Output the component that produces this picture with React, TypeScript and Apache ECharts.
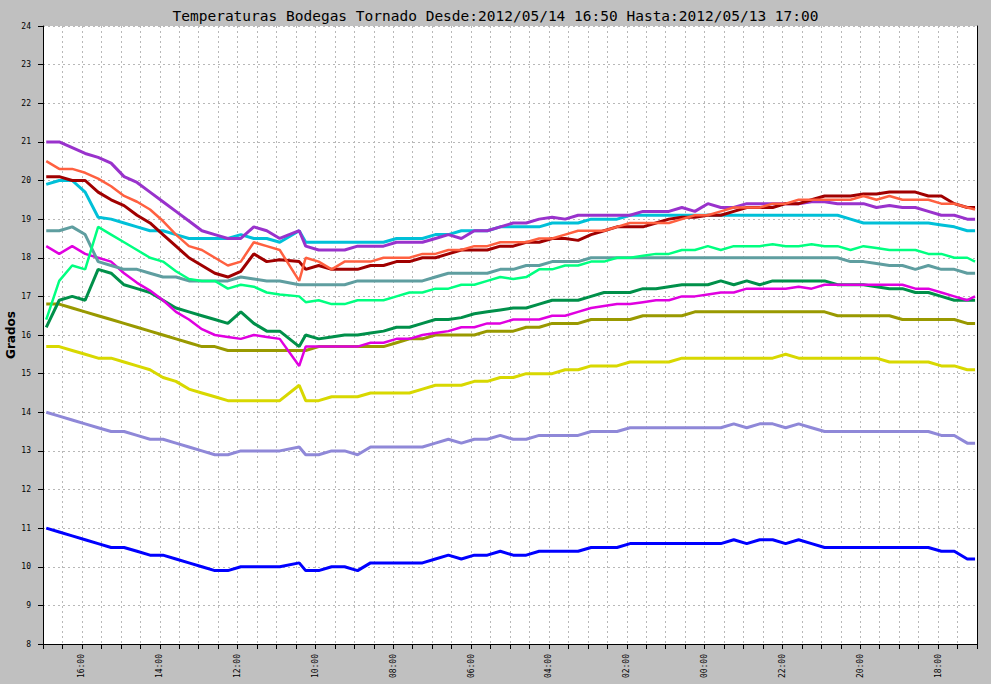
import React, { useEffect, useRef } from 'react';
import * as echarts from 'echarts';

// minutes before 2012/05/14 17:00
const minutesAgo = [
  5, 25, 45, 65, 85, 105, 125, 145, 165, 185,
  205, 225, 245, 265, 285, 305, 325, 345, 365, 395,
  405, 425, 445, 465, 485, 505, 525, 545, 565, 585,
  605, 625, 645, 665, 685, 705, 725, 745, 765, 785,
  805, 825, 845, 865, 885, 905, 925, 945, 965, 985,
  1005, 1025, 1045, 1065, 1085, 1105, 1125, 1145, 1165, 1185,
  1205, 1225, 1245, 1265, 1285, 1305, 1325, 1345, 1365, 1385,
  1405, 1425, 1437,
];

const blue = [
  11.0, 10.9, 10.8, 10.7, 10.6, 10.5, 10.5, 10.4, 10.3, 10.3,
  10.2, 10.1, 10.0, 9.9, 9.9, 10.0, 10.0, 10.0, 10.0, 10.1,
  9.9, 9.9, 10.0, 10.0, 9.9, 10.1, 10.1, 10.1, 10.1, 10.1,
  10.2, 10.3, 10.2, 10.3, 10.3, 10.4, 10.3, 10.3, 10.4, 10.4,
  10.4, 10.4, 10.5, 10.5, 10.5, 10.6, 10.6, 10.6, 10.6, 10.6,
  10.6, 10.6, 10.6, 10.7, 10.6, 10.7, 10.7, 10.6, 10.7, 10.6,
  10.5, 10.5, 10.5, 10.5, 10.5, 10.5, 10.5, 10.5, 10.5, 10.4,
  10.4, 10.2, 10.2,
];
const lavender = [
  14.0, 13.9, 13.8, 13.7, 13.6, 13.5, 13.5, 13.4, 13.3, 13.3,
  13.2, 13.1, 13.0, 12.9, 12.9, 13.0, 13.0, 13.0, 13.0, 13.1,
  12.9, 12.9, 13.0, 13.0, 12.9, 13.1, 13.1, 13.1, 13.1, 13.1,
  13.2, 13.3, 13.2, 13.3, 13.3, 13.4, 13.3, 13.3, 13.4, 13.4,
  13.4, 13.4, 13.5, 13.5, 13.5, 13.6, 13.6, 13.6, 13.6, 13.6,
  13.6, 13.6, 13.6, 13.7, 13.6, 13.7, 13.7, 13.6, 13.7, 13.6,
  13.5, 13.5, 13.5, 13.5, 13.5, 13.5, 13.5, 13.5, 13.5, 13.4,
  13.4, 13.2, 13.2,
];
const yellow = [
  15.7, 15.7, 15.6, 15.5, 15.4, 15.4, 15.3, 15.2, 15.1, 14.9,
  14.8, 14.6, 14.5, 14.4, 14.3, 14.3, 14.3, 14.3, 14.3, 14.7,
  14.3, 14.3, 14.4, 14.4, 14.4, 14.5, 14.5, 14.5, 14.5, 14.6,
  14.7, 14.7, 14.7, 14.8, 14.8, 14.9, 14.9, 15.0, 15.0, 15.0,
  15.1, 15.1, 15.2, 15.2, 15.2, 15.3, 15.3, 15.3, 15.3, 15.4,
  15.4, 15.4, 15.4, 15.4, 15.4, 15.4, 15.4, 15.5, 15.4, 15.4,
  15.4, 15.4, 15.4, 15.4, 15.4, 15.3, 15.3, 15.3, 15.3, 15.2,
  15.2, 15.1, 15.1,
];
const olive = [
  16.8, 16.8, 16.7, 16.6, 16.5, 16.4, 16.3, 16.2, 16.1, 16.0,
  15.9, 15.8, 15.7, 15.7, 15.6, 15.6, 15.6, 15.6, 15.6, 15.6,
  15.6, 15.7, 15.7, 15.7, 15.7, 15.7, 15.7, 15.8, 15.9, 15.9,
  16.0, 16.0, 16.0, 16.0, 16.1, 16.1, 16.1, 16.2, 16.2, 16.3,
  16.3, 16.3, 16.4, 16.4, 16.4, 16.4, 16.5, 16.5, 16.5, 16.5,
  16.6, 16.6, 16.6, 16.6, 16.6, 16.6, 16.6, 16.6, 16.6, 16.6,
  16.6, 16.5, 16.5, 16.5, 16.5, 16.5, 16.4, 16.4, 16.4, 16.4,
  16.4, 16.3, 16.3,
];
const darkGreen = [
  16.2, 16.9, 17.0, 16.9, 17.7, 17.6, 17.3, 17.2, 17.1, 16.9,
  16.7, 16.6, 16.5, 16.4, 16.3, 16.6, 16.3, 16.1, 16.1, 15.7,
  16.0, 15.9, 15.95, 16.0, 16.0, 16.05, 16.1, 16.2, 16.2, 16.3,
  16.4, 16.4, 16.45, 16.55, 16.6, 16.65, 16.7, 16.7, 16.8, 16.9,
  16.9, 16.9, 17.0, 17.1, 17.1, 17.1, 17.2, 17.2, 17.25, 17.3,
  17.3, 17.3, 17.4, 17.3, 17.4, 17.3, 17.4, 17.4, 17.4, 17.4,
  17.4, 17.3, 17.3, 17.3, 17.25, 17.2, 17.2, 17.1, 17.1, 17.0,
  16.9, 16.9, 16.9,
];
const magenta = [
  18.3, 18.1, 18.3, 18.1, 18.0, 17.9, 17.6, 17.35, 17.15, 16.9,
  16.6, 16.4, 16.15, 16.0, 15.95, 15.9, 16.0, 15.95, 15.9, 15.2,
  15.7, 15.7, 15.7, 15.7, 15.7, 15.8, 15.8, 15.9, 15.9, 16.0,
  16.05, 16.1, 16.2, 16.2, 16.3, 16.3, 16.4, 16.4, 16.4, 16.5,
  16.5, 16.6, 16.7, 16.75, 16.8, 16.8, 16.85, 16.9, 16.9, 17.0,
  17.0, 17.05, 17.1, 17.1, 17.2, 17.2, 17.2, 17.2, 17.25, 17.2,
  17.3, 17.3, 17.3, 17.3, 17.3, 17.3, 17.3, 17.2, 17.2, 17.1,
  17.0, 16.9, 17.0,
];
const teal = [
  18.7, 18.7, 18.8, 18.6, 17.9, 17.8, 17.7, 17.7, 17.6, 17.5,
  17.5, 17.4, 17.4, 17.4, 17.4, 17.5, 17.45, 17.4, 17.4, 17.3,
  17.3, 17.3, 17.3, 17.3, 17.4, 17.4, 17.4, 17.4, 17.4, 17.4,
  17.5, 17.6, 17.6, 17.6, 17.6, 17.7, 17.7, 17.8, 17.8, 17.9,
  17.9, 17.9, 18.0, 18.0, 18.0, 18.0, 18.0, 18.0, 18.0, 18.0,
  18.0, 18.0, 18.0, 18.0, 18.0, 18.0, 18.0, 18.0, 18.0, 18.0,
  18.0, 18.0, 17.9, 17.9, 17.85, 17.8, 17.8, 17.7, 17.8, 17.7,
  17.7, 17.6, 17.6,
];
const springGreen = [
  16.4, 17.4, 17.8, 17.7, 18.8, 18.6, 18.4, 18.2, 18.0, 17.9,
  17.65, 17.45, 17.4, 17.4, 17.2, 17.3, 17.25, 17.1, 17.05, 17.0,
  16.85, 16.9, 16.8, 16.8, 16.9, 16.9, 16.9, 17.0, 17.1, 17.1,
  17.2, 17.2, 17.3, 17.3, 17.4, 17.5, 17.45, 17.5, 17.7, 17.7,
  17.8, 17.8, 17.9, 17.9, 18.0, 18.0, 18.05, 18.1, 18.1, 18.2,
  18.2, 18.3, 18.2, 18.3, 18.3, 18.3, 18.35, 18.3, 18.3, 18.35,
  18.3, 18.3, 18.2, 18.3, 18.25, 18.2, 18.2, 18.2, 18.1, 18.1,
  18.0, 18.0, 17.9,
];
const cyan = [
  19.9, 20.0, 20.0, 19.7, 19.05, 19.0, 18.9, 18.8, 18.7, 18.7,
  18.6, 18.5, 18.5, 18.5, 18.5, 18.6, 18.5, 18.5, 18.4, 18.7,
  18.4, 18.4, 18.4, 18.4, 18.4, 18.4, 18.4, 18.5, 18.5, 18.5,
  18.6, 18.6, 18.7, 18.7, 18.7, 18.8, 18.8, 18.8, 18.8, 18.9,
  18.9, 18.9, 19.0, 19.0, 19.0, 19.1, 19.1, 19.1, 19.1, 19.1,
  19.1, 19.1, 19.1, 19.1, 19.1, 19.1, 19.1, 19.1, 19.1, 19.1,
  19.1, 19.1, 19.0, 18.9, 18.9, 18.9, 18.9, 18.9, 18.9, 18.85,
  18.8, 18.7, 18.7,
];
const purple = [
  21.0, 21.0, 20.85, 20.7, 20.6, 20.45, 20.1, 19.95, 19.7, 19.45,
  19.2, 18.95, 18.7, 18.6, 18.5, 18.5, 18.8, 18.7, 18.5, 18.7,
  18.3, 18.2, 18.2, 18.2, 18.3, 18.3, 18.3, 18.4, 18.4, 18.4,
  18.5, 18.6, 18.5, 18.7, 18.7, 18.8, 18.9, 18.9, 19.0, 19.05,
  19.0, 19.1, 19.1, 19.1, 19.1, 19.1, 19.2, 19.2, 19.2, 19.3,
  19.2, 19.4, 19.3, 19.3, 19.4, 19.4, 19.4, 19.4, 19.4, 19.45,
  19.45, 19.4, 19.4, 19.4, 19.3, 19.35, 19.3, 19.3, 19.2, 19.1,
  19.1, 19.0, 19.0,
];
const orange = [
  20.5, 20.3, 20.3, 20.2, 20.05, 19.85, 19.6, 19.45, 19.25, 18.95,
  18.6, 18.3, 18.2, 18.0, 17.8, 17.9, 18.4, 18.3, 18.2, 17.4,
  18.0, 17.9, 17.7, 17.9, 17.9, 17.9, 18.0, 18.0, 18.0, 18.1,
  18.1, 18.2, 18.2, 18.3, 18.3, 18.4, 18.4, 18.4, 18.5, 18.5,
  18.6, 18.7, 18.7, 18.7, 18.8, 18.9, 18.9, 18.9, 18.9, 19.0,
  19.1, 19.1, 19.2, 19.3, 19.3, 19.3, 19.4, 19.4, 19.5, 19.5,
  19.5, 19.5, 19.5, 19.6, 19.5, 19.6, 19.5, 19.5, 19.5, 19.4,
  19.4, 19.3, 19.25,
];
const darkRed = [
  20.1, 20.1, 20.0, 20.0, 19.7, 19.5, 19.35, 19.1, 18.9, 18.6,
  18.3, 18.0, 17.8, 17.6, 17.5, 17.65, 18.1, 17.9, 17.95, 17.9,
  17.7, 17.8, 17.7, 17.7, 17.7, 17.8, 17.8, 17.9, 17.9, 18.0,
  18.0, 18.1, 18.2, 18.2, 18.2, 18.3, 18.3, 18.4, 18.4, 18.5,
  18.5, 18.45, 18.6, 18.7, 18.8, 18.8, 18.8, 18.9, 19.0, 19.05,
  19.05, 19.1, 19.1, 19.2, 19.3, 19.3, 19.3, 19.4, 19.4, 19.5,
  19.6, 19.6, 19.6, 19.65, 19.65, 19.7, 19.7, 19.7, 19.6, 19.6,
  19.4, 19.3, 19.3,
];

const seriesList = [
  { name: 'Bodega 1', values: blue, color: '#0000FF', width: 3 },
  { name: 'Bodega 2', values: lavender, color: '#8F88D8', width: 3 },
  { name: 'Bodega 3', values: yellow, color: '#D8D800', width: 3 },
  { name: 'Bodega 4', values: olive, color: '#999900', width: 3 },
  { name: 'Bodega 5', values: darkGreen, color: '#00904A', width: 3 },
  { name: 'Bodega 6', values: magenta, color: '#E000E0', width: 2.5 },
  { name: 'Bodega 7', values: teal, color: '#5F9EA0', width: 3 },
  { name: 'Bodega 8', values: springGreen, color: '#00FF80', width: 2.5 },
  { name: 'Bodega 9', values: cyan, color: '#00C0D8', width: 3 },
  { name: 'Bodega 10', values: purple, color: '#9932CC', width: 3 },
  { name: 'Bodega 11', values: darkRed, color: '#A00000', width: 3 },
  { name: 'Bodega 12', values: orange, color: '#FF6040', width: 2.5 },
];

const TITLE = 'Temperaturas Bodegas Tornado Desde:2012/05/14 16:50 Hasta:2012/05/13 17:00';
const MONO = 'DejaVu Sans Mono, monospace';

function timeLabel(v: number): string {
  if (((v - 60) % 120 + 120) % 120 !== 0) return '';
  let h = (17 - v / 60) % 24;
  if (h < 0) h += 24;
  return (h < 10 ? '0' : '') + h + ':00';
}

export default function App() {
  const ref = useRef<HTMLDivElement>(null);
  useEffect(() => {
    if (!ref.current) return;
    const chart = echarts.init(ref.current, undefined, { renderer: 'svg' });
    const grid = '#b8b8b8';
    chart.setOption({
      animation: false,
      backgroundColor: '#c0c0c0',
      title: {
        text: TITLE,
        left: 'center',
        top: 3,
        textStyle: { fontFamily: MONO, fontSize: 14.5, fontWeight: 'normal', color: '#000' },
      },
      grid: {
        left: 43, right: 14, top: 26, bottom: 40,
        containLabel: false,
        outerBoundsMode: 'none',
        show: true, backgroundColor: '#ffffff', borderWidth: 0,
      },
      xAxis: {
        type: 'value',
        min: 0, max: 1440, interval: 30,
        axisLine: { show: true, onZero: false, lineStyle: { color: '#000', width: 1 } },
        axisTick: { show: true, length: 5, lineStyle: { color: '#000' } },
        axisLabel: {
          rotate: 90, interval: 0, hideOverlap: false, showMinLabel: true, showMaxLabel: true,
          fontFamily: MONO, fontSize: 8, color: '#000', margin: 10,
          formatter: (v: number) => timeLabel(v),
        },
        splitLine: { show: true, lineStyle: { color: grid, type: [2, 3], width: 1 } },
      },
      yAxis: [
        {
          type: 'value', min: 8, max: 24, interval: 1,
          name: 'Grados', nameLocation: 'middle', nameGap: 26, nameRotate: 90,
          nameMoveOverlap: false,
          nameTextStyle: { fontFamily: 'DejaVu Sans, sans-serif', fontSize: 12, fontWeight: 'bold', color: '#000' },
          axisLine: { show: true, lineStyle: { color: '#000', width: 1 } },
          axisTick: { show: true, length: 5, lineStyle: { color: '#000' } },
          axisLabel: { fontFamily: MONO, fontSize: 8, color: '#000', margin: 12 },
          splitLine: { show: true, lineStyle: { color: grid, type: [2, 3], width: 1 } },
        },
        {
          type: 'value', min: 8, max: 24, interval: 1, position: 'right',
          axisLine: { show: true, lineStyle: { color: '#000', width: 1 } },
          axisTick: { show: false }, axisLabel: { show: false }, splitLine: { show: false },
        },
      ],
      series: seriesList.map((s) => ({
        name: s.name,
        type: 'line',
        yAxisIndex: 0,
        showSymbol: false,
        symbol: 'none',
        silent: true,
        lineStyle: { color: s.color, width: s.width },
        itemStyle: { color: s.color },
        data: minutesAgo.map((t, i) => [t, s.values[i]]),
      })),
    });
    return () => chart.dispose();
  }, []);
  return <div ref={ref} style={{ position: 'absolute', left: 0, top: 0, width: 991, height: 684 }} />;
}
